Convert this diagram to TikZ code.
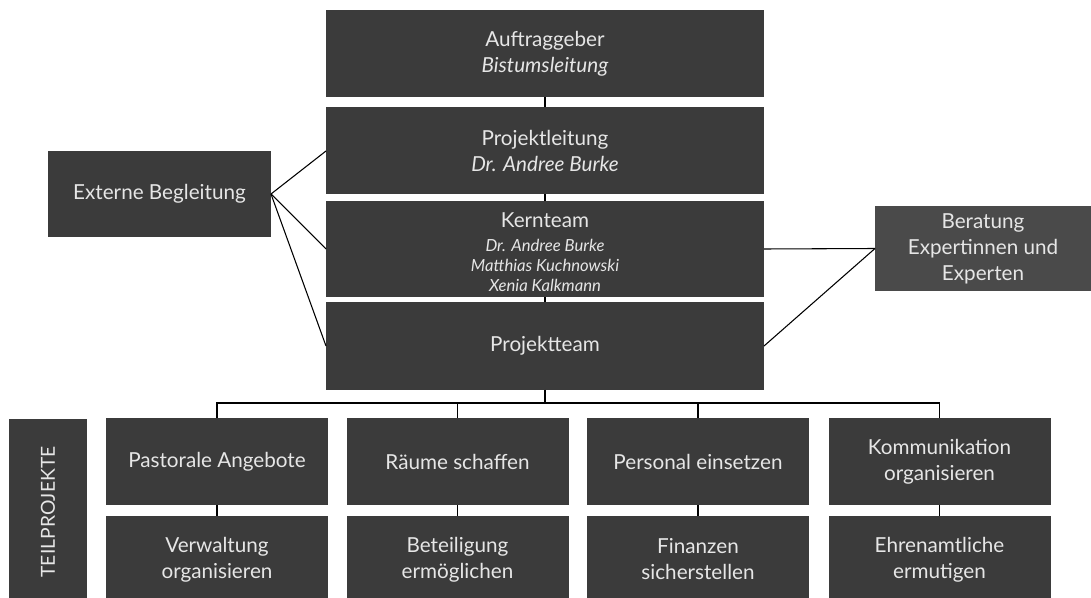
\documentclass[tikz,border=0pt]{standalone}
\usepackage{fontspec}
\setmainfont{Lato}
\definecolor{boxgray}{HTML}{3B3B3B}
\definecolor{advgray}{HTML}{4A4A4A}
\definecolor{txtgray}{HTML}{E6E6E6}
\newcommand{\namefont}{\fontsize{12.5}{15}\selectfont\itshape}

\begin{document}
\begin{tikzpicture}[x=0.75pt,y=-0.75pt,
  box/.style={fill=boxgray,text=txtgray,inner sep=0pt,outer sep=0pt,align=center,
    font=\fontsize{15.5}{19.5}\selectfont},
  topbox/.style={box,minimum width=328.5pt,minimum height=65.25pt},
  subbox/.style={box,minimum width=166.5pt,minimum height=65.25pt},
  link/.style={black,line width=0.8pt}]

% frame
\useasboundingbox (0,0) rectangle (1091,598);
\clip (0,0) rectangle (1091,598);

% main column
\node[topbox] (auftrag) at (545,53.5) {Auftraggeber\\\textit{Bistumsleitung}};
\node[topbox] (leitung) at (545,151) {Projektleitung\\\textit{Dr. Andree Burke}};
\node[topbox] (kern) at (545,249) {\rule{0pt}{20pt}Kernteam\\[-1.5pt]\namefont
  \begin{tabular}[t]{@{}c@{}}Dr. Andree Burke\\Matthias Kuchnowski\\Xenia Kalkmann\end{tabular}};
\node[topbox] (projekt) at (545,346) {Projektteam};
\draw[link] (auftrag) -- (leitung) -- (kern) -- (projekt);

% side boxes
\node[box,minimum width=167.25pt,minimum height=64.5pt] (extern) at (159.5,194) {Externe Begleitung};
\node[box,fill=advgray,minimum width=162pt,minimum height=63.75pt] (beratung) at (983,248.5)
  {Beratung\\Expertinnen und\\Experten};
\foreach \t in {leitung,kern,projekt}
  \draw[link] (extern.east) -- (\t.west);
\foreach \t in {kern,projekt}
  \draw[link] (beratung.west) -- (\t.east);

% teilprojekte
\node[box,rotate=90,minimum width=139.5pt,minimum height=58.5pt,
  font=\fontsize{14.5}{17}\selectfont] (teil) at (48,512) {TEILPROJEKTE};
\foreach \nm/\x/\upper/\lower in {pastoral/217/{Pastorale Angebote}/{Verwaltung\\organisieren},
    raeume/457.5/{Räume schaffen}/{Beteiligung\\ermöglichen},
    personal/698/{Personal einsetzen}/{Finanzen\\sicherstellen},
    kommunikation/939.5/{Kommunikation\\organisieren}/{Ehrenamtliche\\ermutigen}}
{
  \node[subbox] (\nm-a) at (\x,461.5) {\upper};
  \node[subbox] (\nm-b) at (\x,559.5) {\lower};
  \draw[link] (\nm-a) -- (\nm-b);
}

% bus
\coordinate (bus) at (545,403);
\draw[link] (projekt) -- (bus);
\draw[link] (pastoral-a.north) |- (bus) -| (kommunikation-a.north);
\draw[link] (raeume-a.north) -- (raeume-a.north |- bus);
\draw[link] (personal-a.north) -- (personal-a.north |- bus);
\end{tikzpicture}
\end{document}
